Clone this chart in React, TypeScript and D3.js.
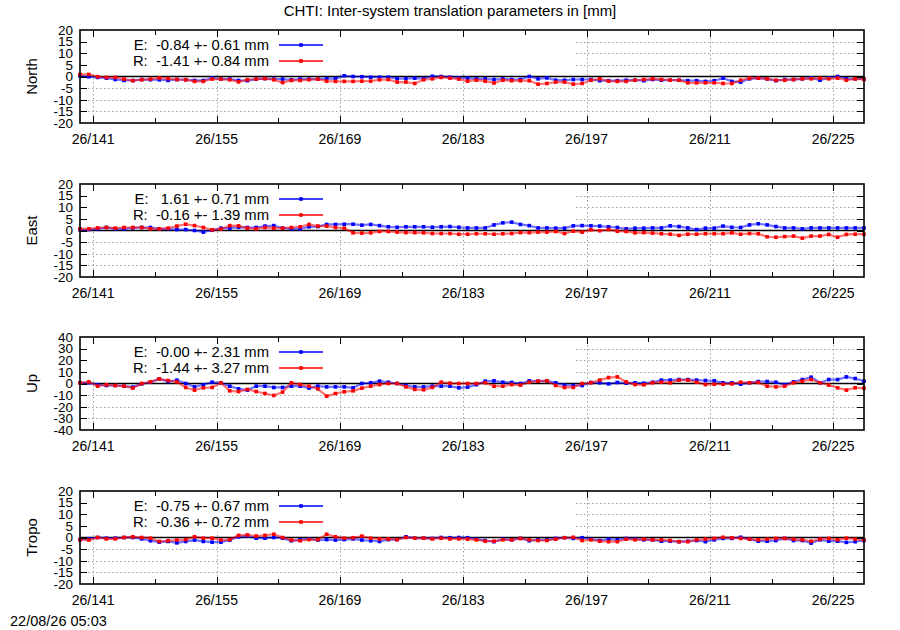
import { useRef, useEffect } from 'react';
import * as d3 from 'd3';

// daily epochs, day-of-year 139.5 .. 228.5 (2026)
const days = d3.range(90).map((i) => 139.5 + i);

const majorTicks = [141, 155, 169, 183, 197, 211, 225];
const minorTicks = [148, 162, 176, 190, 204, 218];

const northE = [
  0.3, -0.1, -0.4, -0.7, -1.3, -1.7, -1.7, -1.3, -1.4, -1.4, -1.7, -1.3, -1.4, -1.7, -1.7, -0.6, -1.1, -1.1, -1.7, -1.8,
  -1.1, -0.9, -1.1, -1.1, -1.4, -1.1, -1.1, -1.1, -0.9, -0.9, 0.3, 0, -0.1, -0.3, -0.3, -0.3, -0.9, -0.9, -0.7, -0.9,
  0.1, 0, -0.3, -0.6, -0.7, -1.0, -1.0, -1.3, -1.0, -1.3, -1.3, 0, -1.0, -0.6, -1.6, -1.6, -1.3, -1.3, -1.3, -1.8,
  -1.8, -1.8, -1.6, -1.6, -1.8, -1.3, -1.6, -1.6, -1.6, -1.8, -1.8, -2.1, -1.8, -0.7, -2.1, -2.4, -1.0, -0.7, -1.0, -1.8,
  -1.3, -1.3, -1.0, -0.6, -1.6, -0.6, 0, -1.0, -1.0, -1.0,
];
const northR = [
  0.9, 0.9, -0.1, -0.4, -0.4, -1.1, -1.8, -1.4, -1.1, -0.6, -0.9, -1.3, -1.4, -2.1, -2.1, -1.1, -1.1, -1.4, -2.3, -1.4,
  -1.1, -0.9, -1.4, -2.6, -1.7, -1.7, -1.4, -1.1, -2.0, -2.1, -2.1, -2.1, -2.0, -2.0, -1.4, -1.3, -2.4, -2.4, -3.0, -1.4,
  -1.0, -0.4, -0.7, -1.1, -2.0, -1.6, -2.0, -2.8, -1.6, -1.8, -1.8, -1.8, -3.3, -3.0, -2.4, -2.4, -3.3, -3.0, -1.6, -1.0,
  -2.0, -2.1, -2.1, -1.6, -1.3, -1.0, -1.3, -1.6, -1.6, -2.7, -2.7, -2.7, -2.7, -3.0, -3.0, -1.6, -0.7, -0.7, -1.0, -1.6,
  -1.6, -1.3, -1.0, -1.0, -0.7, -1.0, -0.7, -1.6, -1.0, -1.3,
];
const eastE = [
  0.3, 0.4, 0.7, 1.3, 0.7, 0.7, 1.1, 1.3, 1.3, 0.7, 0.7, 0.4, 0.4, 0, -0.7, 0.1, 1.0, 1.0, 1.4, 1.3,
  1.3, 1.9, 2.1, 1.1, 0.7, 0.7, 1.6, 1.7, 2.6, 2.6, 2.7, 2.7, 2.3, 2.6, 2.1, 1.6, 1.4, 1.6, 1.6, 1.6,
  1.4, 1.6, 1.7, 1.4, 1.1, 1.1, 1.1, 2.4, 3.3, 3.6, 2.6, 2.1, 1.1, 1.1, 1.0, 1.0, 2.0, 2.1, 2.0, 1.9,
  1.6, 1.3, 0.7, 1.0, 1.0, 1.1, 1.1, 2.0, 1.7, 1.1, 0.4, 1.0, 1.0, 1.9, 1.4, 1.3, 2.4, 2.9, 2.4, 1.7,
  1.1, 1.1, 0.7, 1.1, 1.1, 1.1, 1.1, 1.1, 1.1, 1.1,
];
const eastR = [
  0.7, 0.7, 1.1, 1.3, 1.0, 1.3, 1.3, 1.3, 0.7, 0.7, 1.0, 1.9, 2.7, 2.1, 1.3, 0.3, 0.6, 2.1, 2.0, 1.0,
  0.7, 1.3, 1.0, 1.0, 1.3, 1.6, 2.6, 1.9, 1.9, 1.3, 1.0, -1.0, -1.1, -1.0, -0.4, -0.4, -0.7, -0.9, -0.9, -1.0,
  -1.3, -1.3, -1.3, -1.6, -1.6, -1.4, -1.4, -1.6, -1.4, -1.3, -0.9, -0.9, -0.7, -0.7, -0.4, -1.3, -0.3, -0.7, 0.3, -0.1,
  0.4, -0.3, -0.4, -1.0, -0.9, -1.1, -1.4, -1.6, -2.1, -1.6, -1.6, -1.4, -1.4, -1.4, -1.0, -1.6, -1.3, -1.4, -2.7, -2.9,
  -2.6, -2.4, -3.3, -2.4, -2.4, -1.7, -2.9, -1.7, -1.6, -1.6,
];
const upE = [
  0.6, 0.6, -1.1, -1.7, -1.7, -2.3, -3.1, -0.3, 1.1, 4.0, 1.7, 2.9, 0, -2.9, -1.1, 1.1, 0.6, -2.3, -4.6, -5.7,
  -2.3, -2.3, -3.4, -3.4, -2.3, -2.3, -4.0, -2.3, -2.9, -2.9, -2.9, -3.7, 0, 0.6, 2.0, 1.1, 0, -1.7, -2.9, -2.9,
  -2.3, -2.3, -2.3, -3.7, -3.1, -1.0, 2.0, 2.3, 1.1, 0.9, 0, 2.3, 2.0, 2.3, 0.6, -1.4, -1.7, -1.7, 0.9, 0.6,
  -0.3, 0.9, 0.3, 0.6, 0.3, 1.1, 2.9, 2.9, 3.4, 3.4, 2.9, 2.6, 2.3, 0.6, 0.6, -0.6, 0.6, 1.7, 1.7, 1.1,
  -0.9, 1.4, 3.4, 5.4, 0.6, 3.4, 3.4, 5.7, 4.3, 2.0,
];
const upR = [
  0.6, 1.4, -2.3, -1.1, -1.7, -2.3, -4.0, 0, 1.4, 4.0, 2.6, 1.4, -3.4, -5.7, -3.7, -3.4, 0.6, -6.3, -6.9, -5.1,
  -6.9, -8.6, -10.3, -7.4, 0.6, -0.9, -2.3, -4.6, -10.9, -8.6, -7.1, -6.3, -4.0, -2.3, -0.9, 0, 0, -2.9, -5.1, -5.4,
  -3.4, 1.1, 0.3, 0, 0, 0, 0.6, -2.3, -2.3, -0.9, -1.4, 1.1, 2.0, 2.3, -1.7, -3.4, -3.4, 0, 0.6, 2.9,
  5.1, 5.7, 1.4, -0.9, -1.1, 0.6, 1.1, 0.6, 2.9, 2.9, 1.1, -0.9, -0.6, -0.6, -0.3, 1.1, 0.6, 0.9, -2.3, -2.9,
  -2.3, 0.6, 2.0, 3.4, 0.6, -1.4, -3.7, -5.7, -3.7, -4.0,
];
const tropoE = [
  -0.9, -0.6, 0, -0.3, -0.3, 0, 0, -0.6, -1.4, -2.0, -1.7, -2.3, -1.7, -1.1, -1.7, -2.0, -2.0, -1.1, 0.3, 0.7,
  -0.3, -0.3, 0, -0.3, -1.4, -0.9, -0.6, -1.1, -0.9, -1.1, -0.9, -0.6, -1.1, -1.4, -1.7, -0.9, -0.9, 0.3, -0.3, -0.3,
  -0.4, 0, -0.1, 0, -0.1, -0.7, -1.3, -1.8, -0.7, -1.0, -0.4, -1.4, -1.0, -1.0, -0.4, -0.1, -0.4, -0.1, -0.7, -1.3,
  -0.7, -1.0, -0.4, -0.7, -1.0, -1.0, -1.6, -1.6, -1.8, -1.6, -1.3, -1.8, -1.0, -0.4, -0.4, 0.1, -0.7, -1.6, -1.6, -1.3,
  -0.4, -1.3, -1.3, -2.4, -1.0, -1.6, -1.6, -2.1, -1.8, -1.3,
];
const tropoR = [
  -0.9, -1.1, 0, -0.6, -0.6, 0, 0.3, 0, -0.3, -1.7, -1.4, -1.1, -0.9, 0.3, -0.3, -0.3, -1.1, -0.9, 0.9, 1.1,
  0.6, 0.9, 1.4, 0, -1.1, -1.4, -0.9, -0.9, 1.4, 0.3, -0.3, -0.1, 0.6, -0.3, -0.6, -0.6, -0.9, 0, -0.3, -0.3,
  -0.6, -0.3, -0.6, -0.6, -0.7, -1.0, -1.6, -1.6, -1.0, -1.0, -0.4, -1.0, -1.3, -1.3, -0.7, -0.1, 0.1, -1.3, -1.0, -1.6,
  -1.8, -1.8, -0.7, -1.0, -0.7, -1.0, -1.0, -1.3, -1.8, -1.8, -1.0, -0.7, -0.4, 0.1, -0.1, -0.4, -0.7, -1.0, -0.7, -0.4,
  -0.4, -0.7, -1.0, -1.6, -0.7, -0.4, -1.0, -0.3, -0.7, -1.0,
];

const panelNames = ['North', 'East', 'Up', 'Tropo'];
const eLabels = ['E:  -0.84 +- 0.61 mm', 'E:   1.61 +- 0.71 mm', 'E:  -0.00 +- 2.31 mm', 'E:  -0.75 +- 0.67 mm'];
const rLabels = ['R:  -1.41 +- 0.84 mm', 'R:  -0.16 +- 1.39 mm', 'R:  -1.44 +- 3.27 mm', 'R:  -0.36 +- 0.72 mm'];
const yLimits = [20, 20, 40, 20];
const yStepsList = [5, 5, 10, 5];

const title = 'CHTI: Inter-system translation parameters in [mm]';
const stamp = '22/08/26 05:03';

const App = () => {
  const svgRef = useRef<SVGSVGElement>(null);

  useEffect(() => {
    if (!svgRef.current) return;
    const width = 900;
    const height = 630;
    const left = 80;
    const right = 864;
    const tops = [30, 184, 337, 491];
    const panelH = 93;
    const font = "'Liberation Sans', Arial, sans-serif";

    const series = [
      [northE, northR],
      [eastE, eastR],
      [upE, upR],
      [tropoE, tropoR],
    ];

    const svg = d3.select(svgRef.current).attr('width', width).attr('height', height);
    svg.selectAll('*').remove();
    svg.append('rect').attr('width', width).attr('height', height).attr('fill', '#fff');

    const x = d3.scaleLinear().domain([139.5, 228.5]).range([left, right]);

    svg
      .append('text')
      .attr('x', 450)
      .attr('y', 16)
      .attr('text-anchor', 'middle')
      .attr('font-family', font)
      .attr('font-size', 15)
      .text(title);

    svg
      .append('text')
      .attr('x', 10)
      .attr('y', 626)
      .attr('font-family', font)
      .attr('font-size', 14.5)
      .text(stamp);

    panelNames.forEach((name, k) => {
      const top = tops[k];
      const bottom = top + panelH;
      const lim = yLimits[k];
      const y = d3.scaleLinear().domain([-lim, lim]).range([bottom, top]);
      const yTicks = d3.range(-lim, lim + 0.001, yStepsList[k]);
      const g = svg.append('g');

      // grid
      g.selectAll('.hgrid')
        .data(yTicks.filter((t) => t !== 0 && Math.abs(t) !== lim))
        .enter()
        .append('line')
        .attr('x1', left)
        .attr('x2', right)
        .attr('y1', (d) => Math.round(y(d)) + 0.5)
        .attr('y2', (d) => Math.round(y(d)) + 0.5)
        .attr('stroke', '#a0a0a0')
        .attr('stroke-dasharray', '1.5,2.5');
      g.selectAll('.vgrid')
        .data(majorTicks)
        .enter()
        .append('line')
        .attr('x1', (d) => Math.round(x(d)) + 0.5)
        .attr('x2', (d) => Math.round(x(d)) + 0.5)
        .attr('y1', top)
        .attr('y2', bottom)
        .attr('stroke', '#a0a0a0')
        .attr('stroke-dasharray', '1.5,2.5');

      // opaque key box
      g.append('rect')
        .attr('x', left + 1)
        .attr('y', top + 1)
        .attr('width', 573 - left)
        .attr('height', 40)
        .attr('fill', '#fff');

      // zero line
      g.append('line')
        .attr('x1', left)
        .attr('x2', right)
        .attr('y1', y(0))
        .attr('y2', y(0))
        .attr('stroke', '#000')
        .attr('stroke-width', 1.6);

      const colors = ['#0000ff', '#ff0000'];
      const labels = [eLabels[k], rLabels[k]];
      series[k].forEach((vals, s) => {
        const line = d3
          .line<number>()
          .x((_, i) => x(days[i]))
          .y((d) => y(d));
        g.append('path')
          .datum(vals)
          .attr('d', line)
          .attr('fill', 'none')
          .attr('stroke', colors[s])
          .attr('stroke-opacity', 0.55)
          .attr('stroke-width', 2.2);
        g.selectAll(`.pt${s}`)
          .data(vals)
          .enter()
          .append('rect')
          .attr('x', (_, i) => x(days[i]) - 1.8)
          .attr('y', (d) => y(d) - 1.8)
          .attr('width', 3.6)
          .attr('height', 3.6)
          .attr('fill', colors[s]);

        // key entry
        const ky = top + 20 + s * 16;
        g.append('text')
          .attr('x', 269)
          .attr('y', ky)
          .attr('text-anchor', 'end')
          .attr('font-family', font)
          .attr('font-size', 14.8)
          .style('white-space', 'pre')
          .text(labels[s]);
        g.append('line')
          .attr('x1', 279)
          .attr('x2', 323)
          .attr('y1', ky - 5)
          .attr('y2', ky - 5)
          .attr('stroke', colors[s])
          .attr('stroke-width', 1.4);
        g.append('rect')
          .attr('x', 301 - 1.8)
          .attr('y', ky - 5 - 1.8)
          .attr('width', 3.6)
          .attr('height', 3.6)
          .attr('fill', colors[s]);
      });

      // border
      g.append('rect')
        .attr('x', left)
        .attr('y', top)
        .attr('width', right - left)
        .attr('height', panelH)
        .attr('fill', 'none')
        .attr('stroke', '#000')
        .attr('stroke-width', 1.6);

      // ticks
      const tickG = g.append('g').attr('stroke', '#000').attr('stroke-width', 1);
      yTicks
        .filter((t) => Math.abs(t) !== lim)
        .forEach((t) => {
          const yy = Math.round(y(t)) + 0.5;
          tickG.append('line').attr('x1', left).attr('x2', left + 7).attr('y1', yy).attr('y2', yy);
          tickG.append('line').attr('x1', right).attr('x2', right - 7).attr('y1', yy).attr('y2', yy);
        });
      [...majorTicks.map((t) => [t, 7]), ...minorTicks.map((t) => [t, 5])].forEach(([t, len]) => {
        const xx = Math.round(x(t)) + 0.5;
        tickG.append('line').attr('x1', xx).attr('x2', xx).attr('y1', bottom).attr('y2', bottom - len);
        tickG.append('line').attr('x1', xx).attr('x2', xx).attr('y1', top).attr('y2', top + len);
      });

      // tick labels
      g.selectAll('.ylab')
        .data(yTicks)
        .enter()
        .append('text')
        .attr('x', 73)
        .attr('y', (d) => y(d))
        .attr('dy', '0.36em')
        .attr('text-anchor', 'end')
        .attr('font-family', font)
        .attr('font-size', 13.5)
        .text((d) => String(d));
      g.selectAll('.xlab')
        .data(majorTicks)
        .enter()
        .append('text')
        .attr('x', (d) => x(d))
        .attr('y', bottom + 21)
        .attr('text-anchor', 'middle')
        .attr('font-family', font)
        .attr('font-size', 14)
        .text((d) => `26/${d}`);

      // axis title
      g.append('text')
        .attr('transform', `translate(37, ${top + panelH / 2}) rotate(-90)`)
        .attr('text-anchor', 'middle')
        .attr('font-family', font)
        .attr('font-size', 15)
        .text(name);
    });
  }, []);

  return (
    <div style={{ position: 'absolute', left: 0, top: 0 }}>
      <svg ref={svgRef} style={{ display: 'block' }}></svg>
    </div>
  );
};

export default App;
